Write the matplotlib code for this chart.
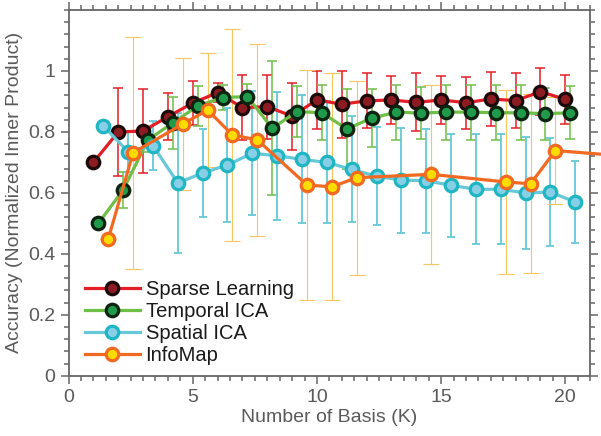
import numpy as np
import matplotlib
matplotlib.use("Agg")
import matplotlib.pyplot as plt

plt.rcParams['font.family'] = ['Liberation Sans', 'DejaVu Sans']

nan = np.nan

# Sparse Learning (K = 1..20)
k_sparse = np.arange(1, 21)
sparse_acc = [0.70, 0.80, 0.803, 0.85, 0.895, 0.929, 0.88, 0.883, 0.852, 0.905,
              0.891, 0.902, 0.905, 0.897, 0.905, 0.896, 0.908, 0.903, 0.932, 0.907]
sparse_err = [nan, 0.143, 0.137, 0.078, 0.072, 0.03, 0.107, 0.105, 0.11, 0.095,
              0.11, 0.09, 0.08, 0.095, 0.08, 0.085, 0.09, 0.09, 0.077, 0.08]

# Temporal ICA (shifted by 0.2)
k_temporal = np.arange(1, 21) + 0.2
temporal_acc = [0.50, 0.61, 0.774, 0.83, 0.885, 0.913, 0.916, 0.812, 0.867, 0.863,
                0.81, 0.845, 0.865, 0.862, 0.865, 0.865, 0.863, 0.863, 0.86, 0.863]
temporal_err = [nan, 0.06, 0.04, 0.085, 0.065, 0.04, 0.04, 0.22, 0.085, 0.09,
                0.13, 0.095, 0.09, 0.085, 0.09, 0.09, 0.09, 0.09, 0.085, 0.087]

# Spatial ICA (shifted by 0.4)
k_spatial = np.arange(1, 21) + 0.4
spatial_acc = [0.82, 0.735, 0.755, 0.633, 0.665, 0.692, 0.73, 0.722, 0.71, 0.70,
               0.677, 0.655, 0.642, 0.64, 0.625, 0.612, 0.612, 0.60, 0.603, 0.57]
spatial_err = [nan, 0.065, 0.08, 0.23, 0.145, 0.186, 0.204, 0.21, 0.21, 0.20,
               0.174, 0.16, 0.172, 0.17, 0.168, 0.18, 0.18, 0.184, 0.176, 0.135]

# InfoMap (shifted by 0.6, not every K)
k_infomap = [1.6, 2.6, 4.6, 5.6, 6.6, 7.6, 9.6, 10.6, 11.6, 14.6, 17.6, 18.6, 19.6, 21.6]
infomap_acc = [0.449, 0.732, 0.826, 0.872, 0.79, 0.774, 0.626, 0.62, 0.65, 0.661,
               0.636, 0.63, 0.739, 0.726]
infomap_err = [0.0, 0.38, 0.217, 0.187, 0.347, 0.316, 0.378, 0.372, 0.318, 0.294,
               0.302, 0.293, 0.176, nan]

series = [
    # label, x, y, err, line, err colour, face, edge, capsize, err lw
    ("Sparse Learning", k_sparse, sparse_acc, sparse_err, "#e31e26", "#e31e26", "#8c1c22", "#1c0a0a", 3.3, 1.1),
    ("Temporal ICA", k_temporal, temporal_acc, temporal_err, "#6fbe46", "#6fbe46", "#1f9a4a", "#0c2410", 3.3, 1.1),
    ("Spatial ICA", k_spatial, spatial_acc, spatial_err, "#66c8d8", "#66c8d8", "#86cfe6", "#1fb5c3", 3.0, 1.3),
    ("InfoMap", k_infomap, infomap_acc, infomap_err, "#f26a22", "#f8c65c", "#ffdc00", "#f26a22", 6.0, 0.8),
]

fig = plt.figure(figsize=(6.01, 4.36), dpi=100)
ax = fig.add_axes([0.114, 0.138, 0.868, 0.839])

for label, x, y, err, lc, ec, fc, mec, cs, elw in series:
    ax.errorbar(x, y, yerr=err, fmt="none", ecolor=ec, elinewidth=elw,
                capsize=cs, capthick=elw, zorder=1)
for i, (label, x, y, err, lc, ec, fc, mec, cs, elw) in enumerate(series):
    ax.plot(x, y, color=lc, lw=2.3, zorder=3 + i, clip_on=False)
    ax.plot(x, y, ls="none", marker="o", ms=9, mfc=fc, mec=mec, mew=2.3,
            zorder=3 + i)
    ax.plot([], [], color=lc, lw=2.3, marker="o", ms=9, mfc=fc, mec=mec,
            mew=2.3, label=label)

ax.set_xlim(0, 21)
ax.set_ylim(0, 1.2)
ax.set_xticks([0, 5, 10, 15, 20])
ax.set_xticks(np.arange(0, 21.01, 0.5), minor=True)
ax.set_yticks([0, 0.2, 0.4, 0.6, 0.8, 1])
ax.set_yticklabels(["0", "0.2", "0.4", "0.6", "0.8", "1"])
ax.set_yticks(np.arange(0, 1.201, 0.04), minor=True)

gray = "#666666"
for s in ax.spines.values():
    s.set_color(gray)
    s.set_linewidth(1.3)
ax.tick_params(which="both", direction="out", top=True, right=True,
               color=gray, labelcolor="#5a5a5a", labelsize=14, width=1.1)
ax.tick_params(which="major", length=6)
ax.tick_params(which="minor", length=3.5)

ax.set_xlabel("Number of Basis (K)", fontsize=14, color="#5a5a5a", labelpad=2)
ax.set_ylabel("Accuracy (Normalized Inner Product)", fontsize=14, color="#5a5a5a",
              labelpad=4)

handles, labels = ax.get_legend_handles_labels()
ax.legend(handles, labels, loc="lower left", bbox_to_anchor=(0.032, 0.03),
          frameon=False, fontsize=14.5, borderpad=0, borderaxespad=0,
          handlelength=2.7, handletextpad=0.3, labelspacing=0.15,
          labelcolor="#1a1a1a")

fig.savefig("out.png", dpi=100)
